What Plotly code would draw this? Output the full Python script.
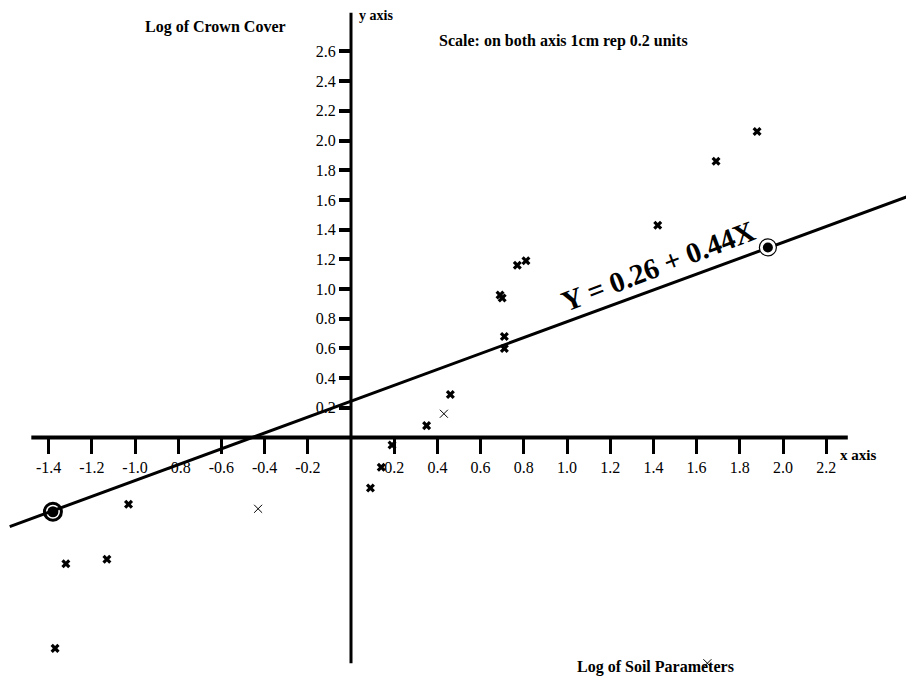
import plotly.graph_objects as go

# ---- data ----
cross_x = [-1.37, -1.32, -1.13, -1.03, 0.09, 0.14, 0.19, 0.35, 0.46, 0.69, 0.70, 0.71, 0.71, 0.77, 0.81, 1.42, 1.69, 1.88]
cross_y = [-1.42, -0.85, -0.82, -0.45, -0.34, -0.20, -0.05, 0.08, 0.29, 0.96, 0.94, 0.68, 0.60, 1.16, 1.19, 1.43, 1.86, 2.06]
thin_x = [-0.43, 0.43, 1.65]
thin_y = [-0.48, 0.16, -1.52]
fit_pt_x = [-1.38, 1.93]
fit_pt_y = [-0.50, 1.28]
line_x = [-1.58, 2.61]
line_y = [-0.60, 1.64]

x_tick_vals = [-1.4, -1.2, -1.0, -0.8, -0.6, -0.4, -0.2, 0.2, 0.4, 0.6, 0.8, 1.0, 1.2, 1.4, 1.6, 1.8, 2.0, 2.2]
x_tick_text = ["-1.4", "-1.2", "-1.0", "-0.8", "-0.6", "-0.4", "-0.2", "0.2", "0.4", "0.6", "0.8", "1.0", "1.2", "1.4", "1.6", "1.8", "2.0", "2.2"]
y_pos_vals = [0.2, 0.4, 0.6, 0.8, 1.0, 1.2, 1.4, 1.6, 1.8, 2.0, 2.2, 2.4, 2.6]
y_pos_text = ["0.2", "0.4", "0.6", "0.8", "1.0", "1.2", "1.4", "1.6", "1.8", "2.0", "2.2", "2.4", "2.6"]
y_neg_vals = [-0.2, -0.4, -0.6, -0.8, -1.0, -1.2, -1.4]
y_neg_text = ["-0.2", "-0.4", "-0.6", "-0.8", "-1.0", "-1.2", "-1.4"]

x_axis_extent = [-1.48, 2.30]
y_axis_extent = [-1.52, 2.86]

FONT = "Liberation Serif"
OFF = 8                      # page body margin
W, H = 914 - OFF, 681 - OFF
X0PX, Y0PX = 351 - OFF, 437.5 - OFF   # where the origin sits inside the figure
SX, SY = 216.0, 148.5                  # pixels per unit
X_RANGE = [-X0PX / SX, (W - X0PX) / SX]
Y_RANGE = [(Y0PX - H) / SY, Y0PX / SY]

x0_paper = (0 - X_RANGE[0]) / (X_RANGE[1] - X_RANGE[0])
y0_paper = (0 - Y_RANGE[0]) / (Y_RANGE[1] - Y_RANGE[0])

fig = go.Figure()

# regression line
fig.add_trace(go.Scatter(x=line_x, y=line_y, mode="lines",
                         line=dict(color="black", width=3), hoverinfo="skip"))
# bold crosses
fig.add_trace(go.Scatter(x=cross_x, y=cross_y, mode="markers",
                         marker=dict(symbol="x", size=8, color="black"), hoverinfo="skip"))
# thin crosses
fig.add_trace(go.Scatter(x=thin_x, y=thin_y, mode="markers",
                         marker=dict(symbol="x-thin-open", size=8, color="black",
                                     line=dict(color="black", width=1)), hoverinfo="skip"))
# left big ringed point
fig.add_trace(go.Scatter(x=fit_pt_x[:1], y=fit_pt_y[:1], mode="markers",
                         marker=dict(symbol="circle-open", size=17, color="black",
                                     line=dict(color="black", width=3)), hoverinfo="skip"))
fig.add_trace(go.Scatter(x=fit_pt_x[:1], y=fit_pt_y[:1], mode="markers",
                         marker=dict(symbol="circle", size=11, color="black",
                                     line=dict(width=0)), hoverinfo="skip"))
# right ringed point
fig.add_trace(go.Scatter(x=fit_pt_x[1:], y=fit_pt_y[1:], mode="markers",
                         marker=dict(symbol="circle", size=17, color="white",
                                     line=dict(color="black", width=1.2)), hoverinfo="skip"))
fig.add_trace(go.Scatter(x=fit_pt_x[1:], y=fit_pt_y[1:], mode="markers",
                         marker=dict(symbol="circle", size=10, color="black",
                                     line=dict(width=0)), hoverinfo="skip"))

# axis lines
fig.add_shape(type="line", xref="x", yref="y", x0=x_axis_extent[0], x1=x_axis_extent[1],
              y0=0, y1=0, line=dict(color="black", width=4), layer="below")
fig.add_shape(type="line", xref="x", yref="y", x0=0, x1=0,
              y0=y_axis_extent[0], y1=y_axis_extent[1], line=dict(color="black", width=3), layer="below")

tickfont = dict(family=FONT, size=16, color="black")
fig.update_layout(
    width=W, height=H,
    margin=dict(l=0, r=0, t=0, b=0),
    paper_bgcolor="white", plot_bgcolor="white",
    showlegend=False,
    xaxis=dict(range=X_RANGE, anchor="free", position=y0_paper,
               showgrid=False, zeroline=False, showline=False,
               tickmode="array", tickvals=x_tick_vals, ticktext=x_tick_text,
               ticks="outside", ticklen=15, tickwidth=3, tickcolor="black",
               tickfont=tickfont, automargin=False),
    yaxis=dict(range=Y_RANGE, anchor="free", position=x0_paper,
               showgrid=False, zeroline=False, showline=False,
               tickmode="array", tickvals=y_pos_vals, ticktext=y_pos_text,
               ticks="outside", ticklen=12, tickwidth=4, tickcolor="black",
               tickfont=tickfont, automargin=False),
    yaxis2=dict(range=Y_RANGE, anchor="free", position=x0_paper, overlaying="y",
                showgrid=False, zeroline=False, showline=False,
                tickmode="array", tickvals=y_neg_vals, ticktext=y_neg_text,
                ticks="outside", ticklen=12, tickwidth=1.5, tickcolor="#555555",
                tickfont=tickfont, automargin=False),
)

bold = dict(family=FONT, size=16, color="black")
def ann(text, x, y, xanchor="center", font=bold, angle=0):
    fig.add_annotation(text=text, xref="paper", yref="paper",
                       x=(x - OFF) / W, y=1 - (y - OFF) / H,
                       xanchor=xanchor, yanchor="middle", showarrow=False,
                       font=font, textangle=angle)

ann("<b>Log of Crown Cover</b>", 215, 27)
ann("<b>y axis</b>", 357, 16, xanchor="left", font=dict(family=FONT, size=14, color="black"))
ann("<b>Scale: on both axis 1cm rep 0.2 units</b>", 563, 41)
ann("<b>x axis</b>", 838, 455, xanchor="left", font=dict(family=FONT, size=15, color="black"))
ann("<b>Log of Soil Parameters</b>", 655, 667)
ann("<b>Y = 0.26 + 0.44X</b>", 658, 266, font=dict(family=FONT, size=29, color="black"), angle=-21)

fig.write_html("out.html")
